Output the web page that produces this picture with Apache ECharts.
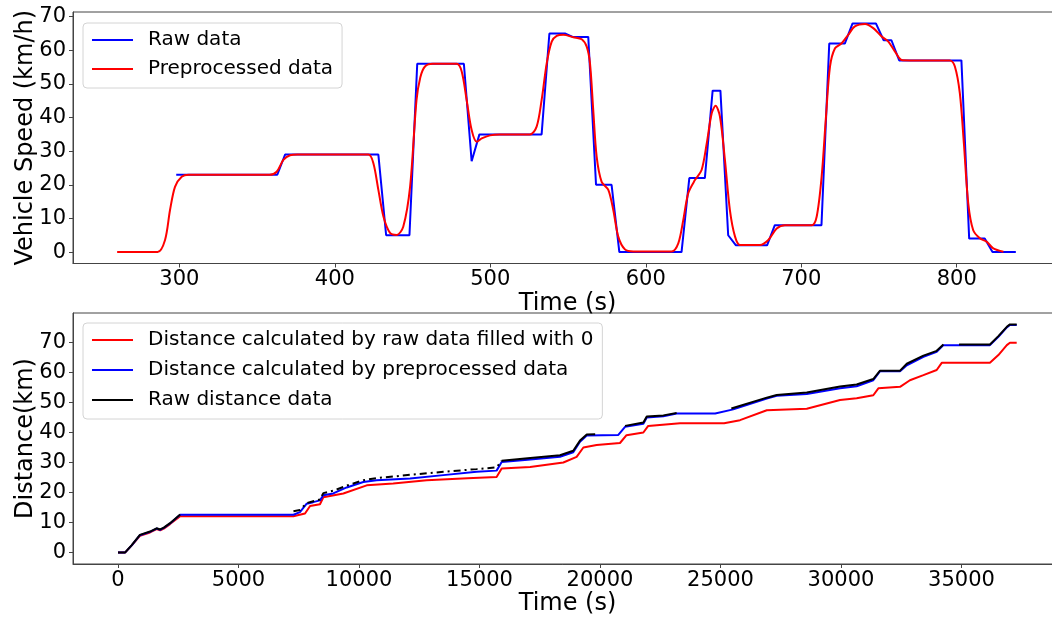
<!DOCTYPE html>
<html>
<head>
<meta charset="utf-8">
<script src="https://cdn.jsdelivr.net/npm/echarts@6/dist/echarts.min.js"></script>
<style>
html,body{margin:0;padding:0;background:#fff;}
#chart{width:1052px;height:618px;}
</style>
</head>
<body>
<div id="chart"></div>
<script>
// ---------- Top panel: vehicle speed ----------
const rawSpeedT = [298,363,368,428,433,448,453,483,488,493,533,538,548,553,563,568,578,583,623,628,638,643,648,653,658,678,683,713,718,728,733,748,753,758,763,803,808,818,823,838];
const rawSpeedV = [23,23,29,29,5,5,56,56,27,35,35,65,65,64,64,20,20,0,0,22,22,48,48,5,2,2,8,8,62,62,68,68,63,63,57,57,4,4,0,0];

const preSpeedT = [260,286,290.8,294,297.2,301.5,306,358,362.6,366.9,371.2,376,421.6,424.8,428,431.3,435.5,439.8,444,448.4,452.5,455,458,463,478.4,481.6,484.8,488,491.3,494.5,499.8,506,525.5,529.8,533,536.3,539.5,542.7,547,553.4,558.8,562,564.1,566.2,568.4,571.6,575.9,579.1,582.3,586.6,592,616.6,620.9,624.1,627.3,631.6,635.9,639.2,642.4,644.9,647.7,650.9,654.1,657.4,660.6,673.4,678.8,684.2,689.5,706.7,709.9,713.1,715.9,718.5,721.7,726,730.2,734.5,741,746.3,751.7,756,760.3,764.6,770,795.6,798.8,802,804.6,807.4,810.6,814.9,819.2,823.5,830];
const preSpeedV = [0,0,3.6,12.5,19.4,22.4,23,23,23.9,27.4,28.8,29,29,26.4,18.5,10.5,5.7,5.1,7.5,19.4,45,52,55.2,56,56,53.7,45.2,36.3,32.8,33.8,34.7,35,35,37.3,45.2,56.2,62.6,64.3,64.6,63.9,63.3,61.1,56.2,42.3,28.4,20.9,18.5,12.5,4.6,0.8,0.2,0.2,2.6,9.5,17.5,21.4,24.4,32.3,41.3,43.5,40.3,27.4,12.5,4.6,2.1,2.1,3.6,7.0,8.0,8.0,10.5,22.4,40.3,55.2,60.6,62.1,64.6,67.1,67.8,66.6,64.1,62.6,59.6,57.1,57,57,55.2,47.2,32.3,14.5,6.5,4.1,3.1,1.1,0.1];

const speedXTicks = [300,400,500,600,700,800];
const speedYTicks = [0,10,20,30,40,50,60,70];

// ---------- Bottom panel: distance ----------
const distRed = [[0,0],[290,0],[570,2.4],[910,5.6],[1330,6.7],[1600,7.8],[1750,7.4],[1900,8.0],[2160,9.5],[2580,12.1],[7280,12.1],[7760,13.0],[7970,15.5],[8380,16.1],[8520,18.4],[9350,19.7],[10320,22.4],[11420,23.0],[12810,24.1],[14500,24.8],[15710,25.2],[15920,28.0],[17100,28.5],[18480,30.0],[19030,31.9],[19310,35.0],[19860,35.8],[20830,36.5],[21100,39.1],[21800,40.0],[22000,42.2],[23320,43.1],[25150,43.1],[25810,44.1],[26920,47.4],[28580,47.9],[29960,50.8],[30650,51.4],[31340,52.4],[31550,54.7],[32450,55.2],[32860,57.4],[33420,59.1],[33970,60.8],[34180,63.2],[36180,63.2],[36530,65.8],[36880,69.1],[37010,69.9],[37290,69.9]];

const distBlue = [[0,0],[290,0],[570,2.4],[910,5.8],[1330,6.9],[1600,8.0],[1750,7.6],[1900,8.2],[2160,9.7],[2580,12.6],[7280,12.6],[7550,13.5],[7830,16.3],[8100,16.8],[8380,17.4],[8520,19.1],[8930,19.7],[9490,21.7],[10180,23.5],[10730,24.1],[12120,24.7],[13500,25.8],[14880,26.9],[15710,27.3],[15920,30.2],[17000,30.9],[18340,31.9],[18890,33.4],[19170,36.9],[19450,39.0],[20760,39.2],[21040,41.9],[21800,42.9],[21940,45.0],[22630,45.4],[23180,46.3],[24780,46.3],[25530,47.7],[26920,51.3],[27330,52.2],[28580,52.8],[29960,54.7],[30650,55.4],[31340,57.4],[31620,60.4],[32450,60.4],[32730,62.4],[33420,65.2],[33970,66.9],[34250,69.1],[36180,69.1],[36530,71.9],[36880,75.0],[37010,75.8],[37290,75.8]];

// raw distance record: continuous pieces and a sparse (gappy) stretch
const distRawA = [[0,0],[290,0],[570,2.5],[910,5.9],[1330,7.0],[1600,8.1],[1750,7.7],[1900,8.3],[2160,9.8],[2580,12.7]];
const distRawB = [[15920,30.6],[17000,31.4],[18340,32.4],[18890,33.9],[19170,37.3],[19450,39.3],[19800,39.4]];
const distRawC = [[21040,42.2],[21800,43.3],[21940,45.3],[22630,45.7],[23180,46.5]];
const distRawD = [[25450,48.0],[26920,51.6],[27330,52.5],[28580,53.3],[29960,55.3],[30650,56.0],[31340,57.8],[31620,60.6],[32450,60.6],[32730,62.9],[33420,65.6],[33970,67.2],[34250,69.3]];
const distRawE = [[34900,69.3],[36180,69.3],[36530,72.1],[36880,75.2],[37010,76.0],[37290,76.0]];
const distRawSparse = [[7280,13.8],[7550,14.2],[7830,16.5],[8100,17.1],[8380,17.7],[8520,19.8],[8930,20.6],[9490,22.3],[10180,24.1],[10730,24.8],[12120,25.9],[13500,26.9],[14880,27.8],[15710,28.4],[15920,30.6]];

const distXTicks = [0,5000,10000,15000,20000,25000,30000,35000];
const distYTicks = [0,10,20,30,40,50,60,70];

// ---------- build ----------
const FONT = 'DejaVu Sans';
const AX = '#444';
function pairs(t, v){ return t.map((x,i)=>[x, v[i]]); }
function joinGaps(){ const out=[]; Array.prototype.forEach.call(arguments,(seg,i)=>{ if(i>0) out.push([seg[0][0]-1,'-']); seg.forEach(p=>out.push(p)); }); return out; }

function xAxisCfg(grid, min, max, ticks){
  return {
    type:'value', gridIndex:grid, min:min, max:max,
    name:'Time (s)', nameLocation:'middle', nameGap:28, nameMoveOverlap:false,
    nameTextStyle:{fontFamily:FONT,fontSize:24,color:'#000'},
    axisLine:{show:true,onZero:false,lineStyle:{color:AX,width:1}},
    axisTick:{show:true,length:4,inside:false,customValues:ticks,lineStyle:{color:AX}},
    axisLabel:{fontFamily:FONT,fontSize:21,color:'#000',margin:6,customValues:ticks,formatter:v=>String(v)},
    splitLine:{show:false}
  };
}
function yAxisCfg(grid, min, max, ticks, name){
  return {
    type:'value', gridIndex:grid, min:min, max:max,
    name:name, nameLocation:'middle', nameGap:35, nameRotate:90, nameMoveOverlap:false,
    nameTextStyle:{fontFamily:FONT,fontSize:24,color:'#000'},
    axisLine:{show:true,onZero:false,lineStyle:{color:AX,width:1}},
    axisTick:{show:true,length:4,inside:false,customValues:ticks,lineStyle:{color:AX}},
    axisLabel:{fontFamily:FONT,fontSize:21,color:'#000',margin:7,customValues:ticks,formatter:v=>String(v)},
    splitLine:{show:false}
  };
}
function legendCfg(top, names, gap){
  return {
    orient:'vertical', left:83, top:top, data:names,
    itemWidth:41, itemHeight:20, itemGap:gap,
    itemStyle:{opacity:0, borderWidth:0},
    textStyle:{fontFamily:FONT,fontSize:20,color:'#000',lineHeight:20,padding:[0,0,0,10]},
    backgroundColor:'rgba(255,255,255,0.85)', borderColor:'#d4d4d4', borderWidth:1, borderRadius:4,
    padding:[7,9,9,8], selectedMode:false
  };
}
function lineSeries(name, data, color, xi, extra){
  return Object.assign({
    type:'line', name:name, data:data, xAxisIndex:xi, yAxisIndex:xi,
    showSymbol:false, symbol:'none', connectNulls:false, animation:false,
    lineStyle:{color:color,width:2}, itemStyle:{color:color}
  }, extra||{});
}

const chart = echarts.init(document.getElementById('chart'), null, {renderer:'canvas'});
chart.setOption({
  backgroundColor:'#fff',
  animation:false,
  grid:[
    {left:73, top:12, width:989, height:251.5, show:true, borderColor:AX, borderWidth:1, backgroundColor:'transparent', outerBoundsMode:'none'},
    {left:73, top:313, width:989, height:251, show:true, borderColor:AX, borderWidth:1, backgroundColor:'transparent', outerBoundsMode:'none'}
  ],
  xAxis:[ xAxisCfg(0, 231.6, 867.7, speedXTicks), xAxisCfg(1, -1867, 39170, distXTicks) ],
  yAxis:[ yAxisCfg(0, -3.4, 71.4, speedYTicks, 'Vehicle Speed (km/h)'), yAxisCfg(1, -3.8, 79.8, distYTicks, 'Distance(km)') ],
  legend:[
    legendCfg(23, ['Raw data','Preprocessed data'], 9),
    legendCfg(323, ['Distance calculated by raw data filled with 0','Distance calculated by preprocessed data','Raw distance data'], 10)
  ],
  series:[
    lineSeries('Raw data', pairs(rawSpeedT, rawSpeedV), '#0000ff', 0),
    lineSeries('Preprocessed data', pairs(preSpeedT, preSpeedV), '#ff0000', 0, {smooth:0.3}),
    lineSeries('Distance calculated by raw data filled with 0', distRed, '#ff0000', 1),
    lineSeries('Distance calculated by preprocessed data', distBlue, '#0000ff', 1),
    lineSeries('Raw distance data', joinGaps(distRawA, distRawB, distRawC, distRawD, distRawE), '#000000', 1),
    lineSeries('raw-sparse', distRawSparse, '#000000', 1, {lineStyle:{color:'#000',width:2,type:[7,4,2,4]}})
  ]
});
</script>
</body>
</html>
